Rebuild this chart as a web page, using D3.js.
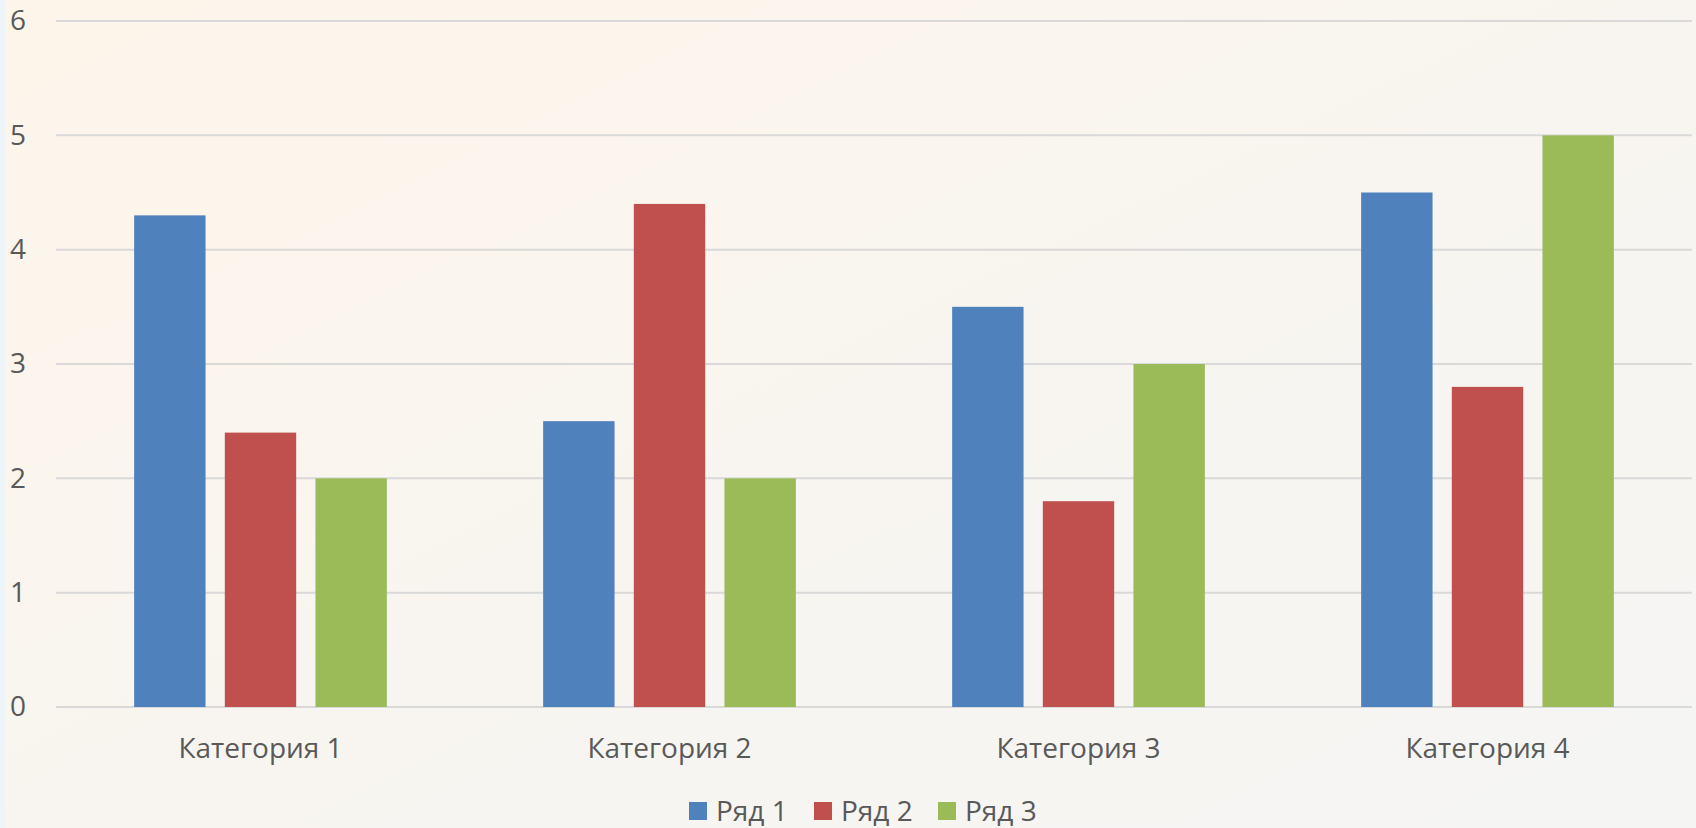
<!DOCTYPE html>
<html>
<head>
<meta charset="utf-8">
<script src="https://cdn.jsdelivr.net/npm/d3@7"></script>
<style>
  body { margin: 0; overflow: hidden; }
  text { font-family: "Open Sans", "Noto Sans", sans-serif; fill: #595959; }
</style>
</head>
<body>
<script>
// data
var categories = ["Категория 1", "Категория 2", "Категория 3", "Категория 4"];
var seriesNames = ["Ряд 1", "Ряд 2", "Ряд 3"];
var series1 = [4.3, 2.5, 3.5, 4.5];
var series2 = [2.4, 4.4, 1.8, 2.8];
var series3 = [2, 2, 3, 5];
var yTicks = [0, 1, 2, 3, 4, 5, 6];
var colors = ["#4f81bd", "#c0504d", "#9bbb59"];

var svgWidth = 1696;
var svgHeight = 828;

var margin = { top: 21, right: 4, bottom: 121, left: 56 };
var chartwidth = svgWidth - margin.left - margin.right;
var chartheight = svgHeight - margin.top - margin.bottom;

var svg = d3.select("body")
    .append("svg")
    .attr("width", svgWidth)
    .attr("height", svgHeight);

// background gradient
var defs = svg.append("defs");
var grad = defs.append("linearGradient")
    .attr("id", "bg")
    .attr("x1", "0").attr("y1", "0")
    .attr("x2", "1").attr("y2", "1");
grad.append("stop").attr("offset", "0%").attr("stop-color", "#fef5ea");
grad.append("stop").attr("offset", "50%").attr("stop-color", "#f8f5f0");
grad.append("stop").attr("offset", "100%").attr("stop-color", "#f5f5f4");

svg.append("rect")
    .attr("width", svgWidth)
    .attr("height", svgHeight)
    .attr("fill", "url(#bg)");

// light strip on the left edge
svg.append("rect")
    .attr("width", 5)
    .attr("height", svgHeight)
    .attr("fill", "#eef5f8");

var chartgroup = svg.append("g")
    .attr("transform", `translate(${margin.left}, ${margin.top})`);

// scales
var x0 = d3.scaleBand()
    .domain(categories)
    .range([0, chartwidth])
    .padding(0);

var x1 = d3.scaleBand()
    .domain(seriesNames)
    .range([0, x0.bandwidth()])
    .paddingInner(0.2126)
    .paddingOuter(0.862);

var y = d3.scaleLinear()
    .domain([0, 6])
    .range([chartheight, 0]);

// gridlines
chartgroup.append("g")
    .selectAll("line")
    .data(yTicks)
    .enter()
    .append("line")
    .attr("x1", 0)
    .attr("x2", chartwidth)
    .attr("y1", d => y(d))
    .attr("y2", d => y(d))
    .attr("stroke", "#d9d9d9")
    .attr("stroke-width", 2);

// y axis labels
var leftaxis = d3.axisLeft(y)
    .tickValues(yTicks)
    .tickFormat(d3.format("d"))
    .tickSize(0)
    .tickPadding(0);
var yAxisG = chartgroup.append("g")
    .attr("transform", `translate(${-margin.left + 10}, 0)`)
    .call(leftaxis);
yAxisG.select(".domain").remove();
yAxisG.selectAll("text")
    .attr("text-anchor", "start")
    .attr("x", 0)
    .style("font-size", "28px")
    .style("font-family", "'Open Sans', sans-serif")
    .attr("fill", "#595959");

// x axis labels
var bottomaxis = d3.axisBottom(x0).tickSize(0).tickPadding(0);
var xAxisG = chartgroup.append("g")
    .attr("transform", `translate(0, ${chartheight})`)
    .call(bottomaxis);
xAxisG.select(".domain").remove();
xAxisG.selectAll("text")
    .attr("y", 51)
    .attr("dy", 0)
    .style("font-size", "28px")
    .style("font-family", "'Open Sans', sans-serif")
    .attr("fill", "#595959");

// bars
var rows = categories.map(function(c, i) {
    return { cat: c, values: [series1[i], series2[i], series3[i]] };
});

var groups = chartgroup.selectAll(".cat")
    .data(rows)
    .enter()
    .append("g")
    .attr("class", "cat")
    .attr("transform", d => `translate(${x0(d.cat)}, 0)`);

groups.selectAll("rect")
    .data(d => d.values.map((v, j) => ({ name: seriesNames[j], value: v, idx: j })))
    .enter()
    .append("rect")
    .attr("x", d => x1(d.name))
    .attr("width", x1.bandwidth())
    .attr("y", d => y(d.value))
    .attr("height", d => chartheight - y(d.value))
    .attr("fill", d => colors[d.idx]);

// legend
var legendX = [689, 814, 938];
var legend = svg.append("g")
    .selectAll("g")
    .data(seriesNames)
    .enter()
    .append("g")
    .attr("transform", (d, i) => `translate(${legendX[i]}, 802)`);

legend.append("rect")
    .attr("width", 18)
    .attr("height", 18)
    .attr("fill", (d, i) => colors[i]);

legend.append("text")
    .attr("x", 27)
    .attr("y", 19)
    .style("font-size", "28px")
    .text(d => d);
</script>
</body>
</html>
